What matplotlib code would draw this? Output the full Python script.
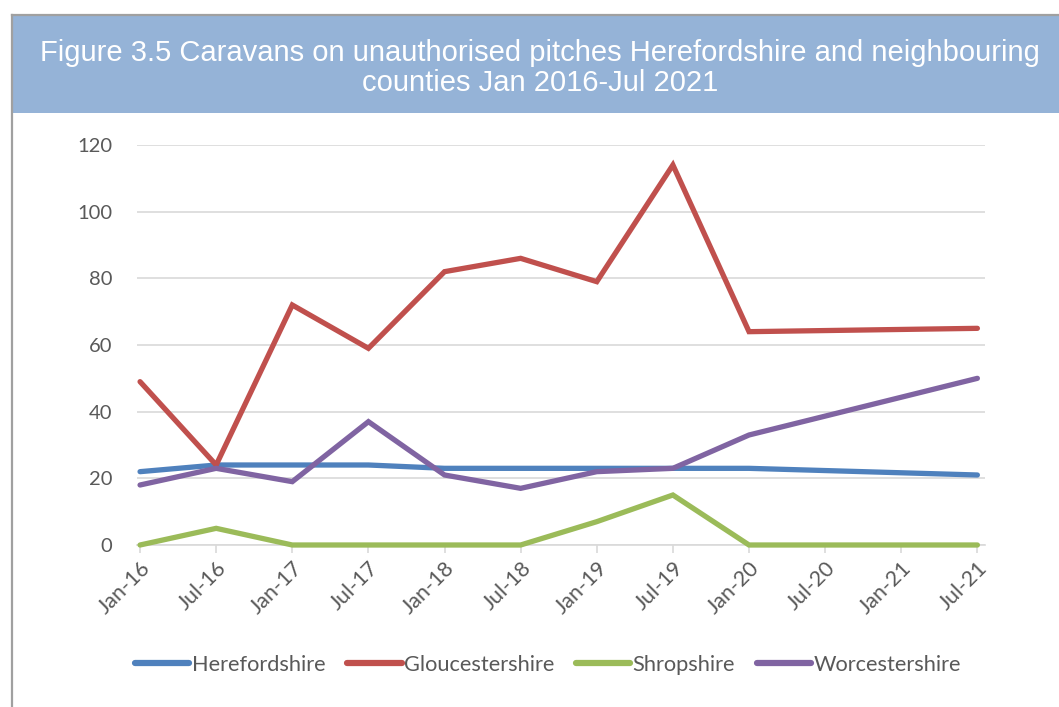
import numpy as np
import matplotlib

matplotlib.use("Agg")
import matplotlib.pyplot as plt
from matplotlib.patches import Rectangle
from matplotlib.lines import Line2D

# half-yearly counts; Jul-20 and Jan-21 have no count (nan)
periods = ["Jan-16", "Jul-16", "Jan-17", "Jul-17", "Jan-18", "Jul-18",
           "Jan-19", "Jul-19", "Jan-20", "Jul-20", "Jan-21", "Jul-21"]
nan = np.nan
herefordshire = [22, 24, 24, 24, 23, 23, 23, 23, 23, nan, nan, 21]
gloucestershire = [49, 24, 72, 59, 82, 86, 79, 114, 64, nan, nan, 65]
shropshire = [0, 5, 0, 0, 0, 0, 7, 15, 0, nan, nan, 0]
worcestershire = [18, 23, 19, 37, 21, 17, 22, 23, 33, nan, nan, 50]

series = [
    ("Herefordshire", herefordshire, "#4F81BD"),
    ("Gloucestershire", gloucestershire, "#C0504D"),
    ("Shropshire", shropshire, "#9BBB59"),
    ("Worcestershire", worcestershire, "#8064A2"),
]

W, H = 1059, 707
fig = plt.figure(figsize=(W / 100, H / 100), dpi=100)
fig.patch.set_facecolor("white")

# title banner and frame
fig.patches.append(Rectangle((12 / W, 1 - 113 / H), 1 - 12 / W, 98 / H,
                             transform=fig.transFigure, facecolor="#95B3D7",
                             edgecolor="none", zorder=0))
fig.add_artist(Line2D([12 / W, 1], [1 - 15 / H] * 2, transform=fig.transFigure,
                      color="#A0A0A0", lw=1.6))
fig.add_artist(Line2D([12 / W] * 2, [0, 1 - 15 / H], transform=fig.transFigure,
                      color="#A0A0A0", lw=1.6))
fig.text(540 / W, 1 - 68 / H,
         "Figure 3.5 Caravans on unauthorised pitches Herefordshire and neighbouring\n"
         "counties Jan 2016-Jul 2021",
         ha="center", va="center", color="white", fontsize=21,
         family="Liberation Sans", linespacing=1.12)

ax = fig.add_axes([137 / W, 1 - 545 / H, (985 - 137) / W, 400 / H])
x = np.arange(len(periods))
for name, vals, col in series:
    v = np.array(vals, dtype=float)
    ok = ~np.isnan(v)
    ax.plot(x[ok], v[ok], color=col, lw=3.8, label=name, clip_on=False,
            solid_capstyle="round", solid_joinstyle="miter", zorder=3)

ax.set_ylim(0, 120)
ax.set_xlim(-0.04, 11.1)
ax.set_yticks(range(0, 121, 20))
ax.set_xticks(x)
ax.set_xticklabels(periods, rotation=45, ha="right", rotation_mode="anchor")
ax.grid(axis="y", color="#D9D9D9", lw=1.2)
ax.set_axisbelow(True)
for s in ["top", "right", "left"]:
    ax.spines[s].set_visible(False)
ax.spines["bottom"].set_color("#D9D9D9")
ax.spines["bottom"].set_linewidth(1.2)
ax.tick_params(axis="y", length=0, pad=18, labelsize=14.5, labelcolor="#595959")
ax.tick_params(axis="x", length=6, width=1.2, color="#D9D9D9", pad=3,
               labelsize=15.5, labelcolor="#595959")
for lab in ax.get_xticklabels() + ax.get_yticklabels():
    lab.set_family("Lato")

leg = fig.legend(loc="center", bbox_to_anchor=(548 / W, 1 - 665 / H), ncol=4,
                 frameon=False, handlelength=2.5, handletextpad=0.1,
                 columnspacing=1.0, prop={"family": "Lato", "size": 15.7})
for t in leg.get_texts():
    t.set_color("#595959")
for h in leg.legend_handles:
    h.set_linewidth(4.5)

fig.savefig("out.png", dpi=100)
